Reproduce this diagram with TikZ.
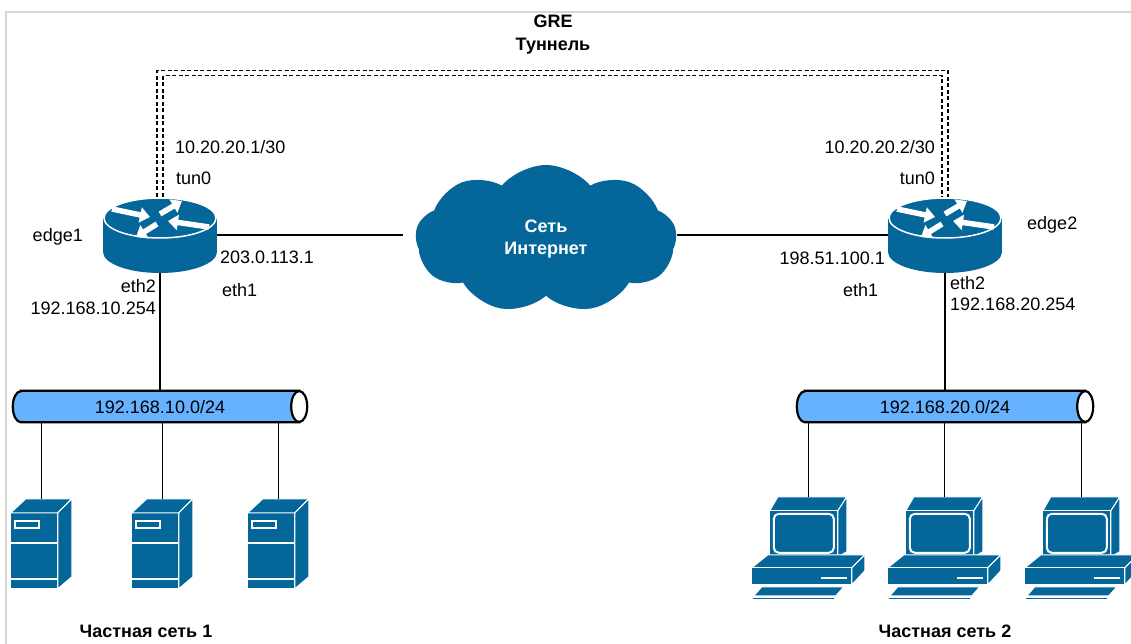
\documentclass[tikz,border=0pt]{standalone}
\usepackage{fontspec}
\setmainfont{Liberation Sans}
\usetikzlibrary{arrows.meta,shapes.symbols}
\definecolor{ciscoblue}{RGB}{4,102,153}
\definecolor{lanblue} {RGB}{102,178,255}
\definecolor{framegray}{RGB}{214,214,214}

%% icons, drawn in the picture's own units (1 unit = 1pt, y pointing down)
\tikzset{
  router/.pic={
    \fill[ciscoblue] (0,17) ellipse[x radius=57pt,y radius=21pt];
    \fill[ciscoblue] (-57,-17) rectangle (57,17);
    \filldraw[fill=ciscoblue,draw=white,line width=1.5pt]
      (0,-17) ellipse[x radius=56pt,y radius=20pt];
    \begin{scope}[white,line width=5.5pt,
                  -{Triangle[length=10pt,width=15pt]}]
      \draw (-48,-26) -- (-10,-18);
      \draw (49,-8)   -- (8,-14);
      \draw (0,-21)   -- (22,-34);
      \draw (-3,-11)  -- (-24,2);
    \end{scope}
  },
  server/.pic={
    \begin{scope}[fill=ciscoblue,draw=white,line width=1pt,line join=round]
      \filldraw (0,14) rectangle (47,90);
      \filldraw (0,14) -- (15,0) -- (61,0) -- (47,14) -- cycle;
      \filldraw (47,14) -- (61,0) -- (61,78) -- (47,90) -- cycle;
    \end{scope}
    \filldraw[fill=ciscoblue,draw=white,line width=2.5pt] (4,22) rectangle (28,29);
    \draw[white,line width=2pt] (0,44) -- (47,44);
    \draw[white,line width=2pt] (0,80) -- (47,80);
  },
  pc/.pic={
    \begin{scope}[fill=ciscoblue,draw=white,line width=1pt,line join=round]
      % monitor
      \filldraw (18,14) -- (26,0) -- (95,0) -- (86,14) -- cycle;
      \filldraw (86,14) -- (95,0) -- (95,55) -- (86,60) -- cycle;
      \filldraw (18,14) rectangle (86,60);
      % system unit
      \filldraw (0,71) -- (16,58) -- (113,58) -- (100,71) -- cycle;
      \filldraw (100,71) -- (113,58) -- (113,74) -- (100,88) -- cycle;
      \filldraw (0,71) rectangle (100,88);
      % keyboard
      \filldraw (2,99) -- (10,90) -- (92,90) -- (84,99) -- cycle;
      \filldraw (1,100.5) rectangle (83,103);
    \end{scope}
    \draw[white,line width=2pt,rounded corners=5pt] (22,17) rectangle (82,56);
    \draw[white,line width=2.5pt] (69,81) -- (95,81);
  },
}

\begin{document}
\begin{tikzpicture}[
  x=1pt,y=-1pt,
  font=\fontsize{18}{22}\selectfont,
  wire/.style={draw=black,line width=1.1pt},
  tunnel/.style={draw=black,line width=1.4pt,dash pattern=on 4pt off 2.5pt},
  routerbox/.style={minimum width=114pt,minimum height=76pt,inner sep=0pt},
  srvbox/.style={minimum width=61pt,minimum height=90pt,inner sep=0pt},
  pcbox/.style={minimum width=113pt,minimum height=103pt,inner sep=0pt},
  lan/.style={minimum height=31pt,inner sep=0pt},
  lanbody/.style={draw=black,line width=2.2pt,fill=lanblue},
  lbl/.style={inner sep=0pt,text height=13pt,text depth=0pt},
  bold/.style={lbl,font=\fontsize{18}{22}\selectfont\bfseries},
]
\useasboundingbox (0,0) rectangle (1131,644);

%% ── Frame ────────────────────────────────────────────────────────────────────
\draw[framegray,line width=2pt] (6,644) -- (6,12) -- (1131,12);

%% ── Edge routers and the Internet ───────────────────────────────────────────
\node[routerbox] (edge1) at (160,235) {};
\node[routerbox] (edge2) at (945,235) {};
\pic at (edge1.center) {router};
\pic at (edge2.center) {router};

\node[cloud,cloud puffs=9,cloud puff arc=100,aspect=1.76,
      fill=ciscoblue,draw=none,text=white,align=center,inner sep=0pt,
      minimum width=261pt,minimum height=148pt,
      font=\fontsize{18}{22}\selectfont\bfseries]
  (inet) at (546,239) {Сеть\\Интернет};

\draw[wire,shorten >=13pt] (edge1.east) -- (edge1.east -| inet.west);
\draw[wire] (inet.east |- edge2.west) -- (edge2.west);

%% ── GRE tunnel ───────────────────────────────────────────────────────────────
\draw[tunnel] ([xshift=-3pt]edge1.north) -- ++(0,-126) -| ([xshift=3pt]edge2.north);
\draw[tunnel] ([xshift=3pt]edge1.north) -- ++(0,-121) -| ([xshift=-3pt]edge2.north);
\node[align=center,inner sep=0pt,
      font=\fontsize{18}{23}\selectfont\bfseries]
  (gre) at (553,35) {GRE\\Туннель};

%% ── Interface labels ─────────────────────────────────────────────────────────
\node[lbl,anchor=west] (e1tunaddr) at (175,147) {10.20.20.1/30};
\node[lbl,anchor=west] (e1tun)     at (176,178) {tun0};
\node[lbl,anchor=east] (e1name)    at (83,235)  {edge1};
\node[lbl,anchor=west] (e1wanaddr) at (220,257) {203.0.113.1};
\node[lbl,anchor=west] (e1wan)     at (222,290) {eth1};
\node[lbl,anchor=east] (e1lan)     at (156,286) {eth2};
\node[lbl,anchor=east] (e1lanaddr) at (156,308) {192.168.10.254};

\node[lbl,anchor=east] (e2tunaddr) at (935,147)  {10.20.20.2/30};
\node[lbl,anchor=east] (e2tun)     at (935,178)  {tun0};
\node[lbl,anchor=west] (e2name)    at (1027,223) {edge2};
\node[lbl,anchor=east] (e2wanaddr) at (885,258)  {198.51.100.1};
\node[lbl,anchor=west] (e2wan)     at (843,290)  {eth1};
\node[lbl,anchor=west] (e2lan)     at (950,283)  {eth2};
\node[lbl,anchor=west] (e2lanaddr) at (950,304)  {192.168.20.254};

%% ── LAN segments ─────────────────────────────────────────────────────────────
\node[lan,minimum width=294pt] (lan1) at (160,406.5) {};
\node[lan,minimum width=296pt] (lan2) at (945,406.5) {};
\foreach \l in {lan1,lan2}{
  \filldraw[lanbody] ([xshift=8pt]\l.north west) -- ([xshift=-8pt]\l.north east)
    -- ([xshift=-8pt]\l.south east) -- ([xshift=8pt]\l.south west)
    arc[start angle=270,end angle=90,x radius=8pt,y radius=15.5pt] -- cycle;
  \filldraw[lanbody,fill=white] ([xshift=-8pt]\l.east)
    ellipse[x radius=8pt,y radius=15.5pt];
}
\node[lbl] (lan1txt) at (lan1.center) {192.168.10.0/24};
\node[lbl] (lan2txt) at (lan2.center) {192.168.20.0/24};

\draw[wire] (edge1.south) -- (edge1.south |- lan1.north);
\draw[wire] (edge2.south) -- (edge2.south |- lan2.north);

%% ── Private network 1: servers ──────────────────────────────────────────────
\foreach \n/\x in {1/41.5,2/162.5,3/278.5}{
  \node[srvbox] (srv\n) at (\x,544) {};
  \pic at (srv\n.north west) {server};
  \draw[wire] (lan1.south -| srv\n.north) -- (srv\n.north);
}
\node[bold] (net1) at (146,631) {Частная сеть 1};

%% ── Private network 2: workstations ─────────────────────────────────────────
\foreach \n/\x in {1/808.5,2/944.5,3/1081.5}{
  \node[pcbox] (pc\n) at (\x,548.5) {};
  \pic at (pc\n.north west) {pc};
  \draw[wire] (lan2.south -| pc\n.north) -- (pc\n.north);
}
\node[bold] (net2) at (945,631) {Частная сеть 2};

\end{tikzpicture}
\end{document}
